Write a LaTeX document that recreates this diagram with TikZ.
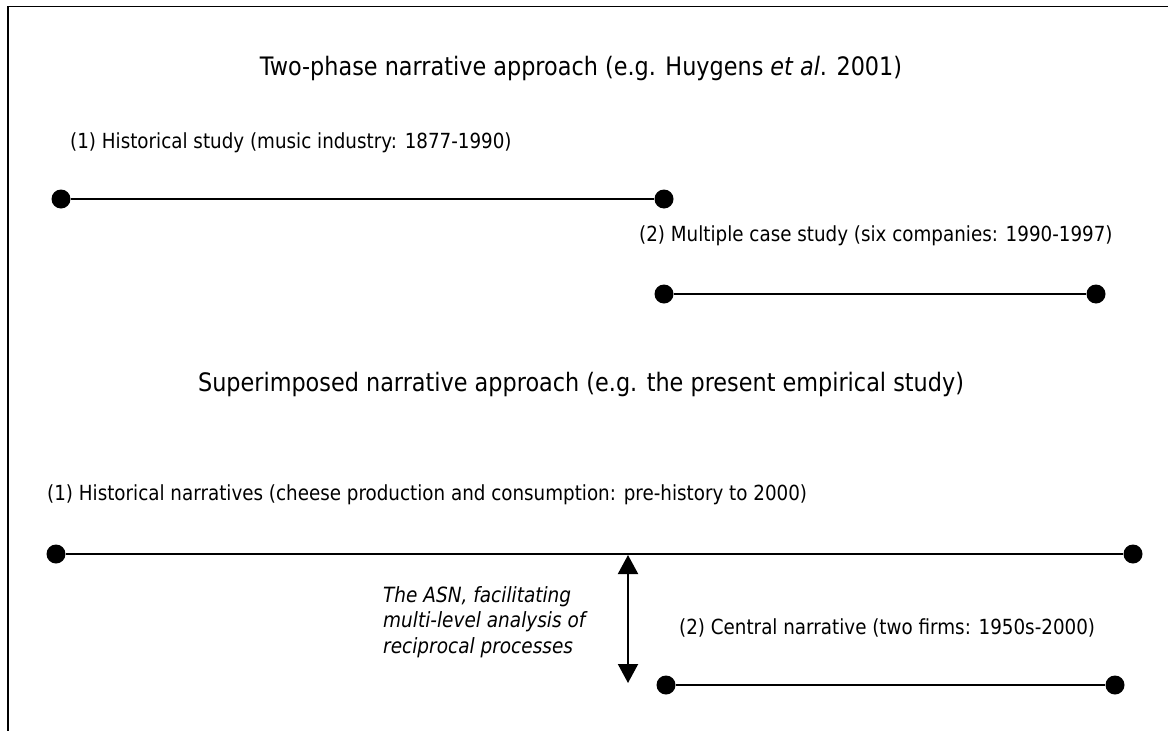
\documentclass[tikz,border=0pt]{standalone}
\usepackage{fontspec}
\setmainfont{DejaVu Sans}[FakeStretch=0.88]
\usetikzlibrary{arrows.meta}
\begin{document}
\begin{tikzpicture}[x=1pt,y=-1pt,
  dot/.style={circle,fill=black,inner sep=0pt,minimum size=19pt},
  seg/.style={line width=2pt},
  title/.style={font=\fontsize{25.4}{30}\selectfont,inner sep=0pt},
  lab/.style={font=\fontsize{20.8}{25}\selectfont,anchor=west,inner sep=0pt},
  twohead/.style={{Triangle[width=20pt,length=19pt]}-{Triangle[width=20pt,length=19pt]}},
]
\useasboundingbox (0,0) rectangle (1168,731);
% frame edges
\draw[line width=1.7pt] (8,731) -- (8,6.5) -- (1168,6.5);

% two-phase approach
\node[title] (t1) at (581,68) {Two-phase narrative approach (e.g. Huygens \textit{et al}. 2001)};
\node[lab] (l1) at (70,143) {(1) Historical study (music industry: 1877-1990)};
\node[dot] (a1) at (61,199) {};
\node[dot] (a2) at (664,199) {};
\draw[seg] (a1) -- (a2);
\node[lab] (l2) at (639,236) {(2) Multiple case study (six companies: 1990-1997)};
\node[dot] (b1) at (664,294) {};
\node[dot] (b2) at (1096,294) {};
\draw[seg] (b1) -- (b2);

% superimposed approach
\node[title] (t2) at (581,384) {Superimposed narrative approach (e.g. the present empirical study)};
\node[lab] (l3) at (47,495) {(1) Historical narratives (cheese production and consumption: pre-history to 2000)};
\node[dot] (c1) at (56,554) {};
\node[dot] (c2) at (1133,554) {};
\draw[seg] (c1) -- (c2);
\node[lab] (l4) at (679,628) {(2) Central narrative (two firms: 1950s-2000)};
\node[dot] (d1) at (666,685) {};
\node[dot] (d2) at (1115,685) {};
\draw[seg] (d1) -- (d2);

% link between the two narrative levels
\coordinate (ar1) at (628,555);
\coordinate (ar2) at (628,683);
\draw[seg,twohead] (ar1) -- (ar2);
\node[lab,font=\fontsize{21}{25.5}\selectfont\itshape,align=left] (asn) at (383,622)
  {The ASN, facilitating\\multi-level analysis of\\reciprocal processes};
\end{tikzpicture}
\end{document}
